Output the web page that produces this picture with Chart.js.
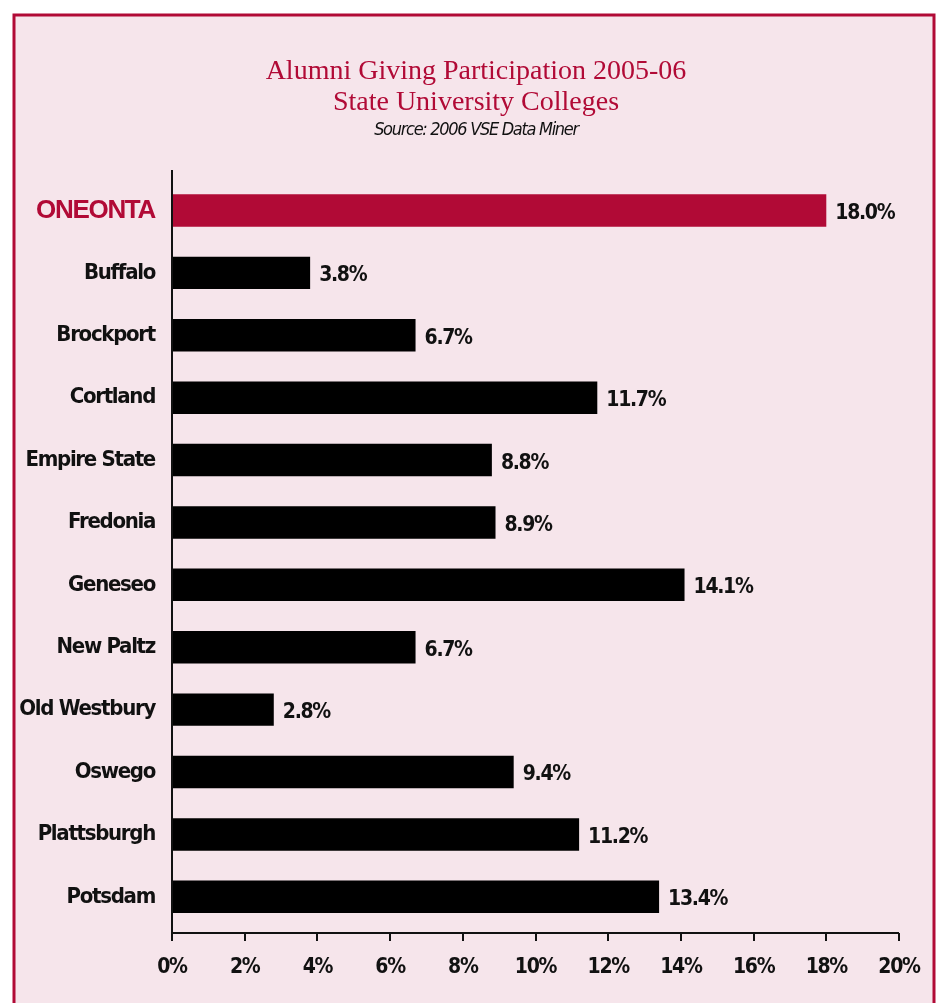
<!DOCTYPE html>
<html>
<head>
<meta charset="utf-8">
<script src="https://cdn.jsdelivr.net/npm/chart.js@4.4.1/dist/chart.umd.min.js"></script>
<style>
html,body{margin:0;padding:0;background:#fff;}
#wrap{position:relative;width:942px;height:1003px;}
canvas{display:block;}
</style>
</head>
<body>
<div id="wrap"><canvas id="c" width="942" height="1003"></canvas></div>
<script>
const categories = ["ONEONTA","Buffalo","Brockport","Cortland","Empire State","Fredonia","Geneseo","New Paltz","Old Westbury","Oswego","Plattsburgh","Potsdam"];
const values = [18.0,3.8,6.7,11.7,8.8,8.9,14.1,6.7,2.8,9.4,11.2,13.4];
const xTicks = [0,2,4,6,8,10,12,14,16,18,20];
const titleLines = ["Alumni Giving Participation 2005-06","State University Colleges"];
const subtitleText = "Source: 2006 VSE Data Miner";

const CRIMSON = "#B10A36";
const BG = "#F6E5EB";
const CONDENSED = "'Liberation Sans Narrow','DejaVu Sans Condensed',sans-serif";
const TIGHT = '-1.3px';

const spacingPlugin = {
  id: 'spacing',
  beforeUpdate(chart) { chart.ctx.letterSpacing = TIGHT; },
  beforeLayout(chart) { chart.ctx.letterSpacing = TIGHT; },
  afterLayout(chart) {
    const tb = chart.titleBlock;
    if (tb && !tb._wrapped) {
      const orig = tb.draw.bind(tb);
      tb.draw = function() {
        const ctx = chart.ctx;
        const prev = ctx.letterSpacing;
        ctx.letterSpacing = '0px';
        orig();
        ctx.letterSpacing = prev;
      };
      tb._wrapped = true;
    }
  },
  beforeDraw(chart) { chart.ctx.letterSpacing = TIGHT; }
};

const framePlugin = {
  id: 'frame',
  beforeDraw(chart) {
    const ctx = chart.ctx;
    ctx.save();
    ctx.fillStyle = '#fff';
    ctx.fillRect(0,0,chart.width,chart.height);
    ctx.fillStyle = BG;
    ctx.fillRect(14,15,920,1000);
    ctx.strokeStyle = CRIMSON;
    ctx.lineWidth = 3;
    ctx.strokeRect(14,15,920,1010);
    ctx.restore();
  }
};

const axesPlugin = {
  id: 'axesDraw',
  afterDatasetsDraw(chart) {
    const ctx = chart.ctx;
    const x = chart.scales.x;
    const a = chart.chartArea;
    const yAxis = a.bottom + 5;
    ctx.save();
    ctx.strokeStyle = '#111';
    ctx.lineWidth = 2;
    ctx.beginPath();
    ctx.moveTo(a.left, 170);
    ctx.lineTo(a.left, yAxis);
    ctx.lineTo(x.getPixelForValue(xTicks[xTicks.length-1]), yAxis);
    ctx.stroke();
    xTicks.forEach(v => {
      const px = Math.round(x.getPixelForValue(v));
      ctx.beginPath();
      ctx.moveTo(px, yAxis);
      ctx.lineTo(px, yAxis + 8);
      ctx.stroke();
    });
    ctx.fillStyle = '#111';
    ctx.letterSpacing = TIGHT;
    ctx.font = "bold 21px " + CONDENSED;
    ctx.textBaseline = 'middle';
    ctx.textAlign = 'left';
    const meta = chart.getDatasetMeta(0);
    meta.data.forEach((bar, i) => {
      ctx.fillText(values[i].toFixed(1) + '%', bar.x + 9, bar.y + 3);
    });
    ctx.restore();
  }
};

const canvas = document.getElementById('c');

new Chart(canvas, {
  type: 'bar',
  data: {
    labels: categories,
    datasets: [{
      data: values,
      backgroundColor: values.map((v,i) => i === 0 ? CRIMSON : '#000'),
      borderWidth: 0,
      barPercentage: 0.52,
      categoryPercentage: 1.0
    }]
  },
  options: {
    indexAxis: 'y',
    responsive: false,
    animation: false,
    events: [],
    layout: { padding: { left: 53, right: 43, top: 0, bottom: 0 } },
    plugins: {
      legend: { display: false },
      tooltip: { enabled: false },
      title: {
        display: true,
        text: titleLines,
        color: CRIMSON,
        font: { family: "'Liberation Serif','DejaVu Serif',serif", size: 28, weight: 'normal', lineHeight: 1.1 },
        padding: { top: 56, bottom: 2 }
      },
      subtitle: {
        display: true,
        text: subtitleText,
        color: '#111',
        font: { family: CONDENSED, size: 18, style: 'italic', lineHeight: 1.15 },
        padding: { top: 0, bottom: 39 }
      }
    },
    scales: {
      x: {
        min: 0, max: 20,
        afterBuildTicks(scale) { scale.ticks = xTicks.map(v => ({ value: v })); },
        afterFit(scale) { scale.height = 75; scale.paddingLeft = 0; scale.paddingRight = 0; },
        grid: { display: false, drawTicks: false },
        border: { display: false },
        ticks: {
          padding: 27,
          color: '#111',
          font: { family: CONDENSED, size: 21, weight: 'bold' },
          callback: v => v + '%',
          maxRotation: 0
        }
      },
      y: {
        afterFit(scale) {
          scale.width = 119;
          scale.paddingTop = 0; scale.paddingBottom = 0;
          scale._computeLabelArea = () => undefined;
        },
        grid: { display: false, drawTicks: false },
        border: { display: false },
        ticks: {
          padding: 17,
          color: ctx => ctx.index === 0 ? CRIMSON : '#111',
          font: ctx => ctx.index === 0
            ? { family: "'Liberation Sans',Arial,sans-serif", size: 26, weight: 'bold' }
            : { family: CONDENSED, size: 22, weight: 'bold' }
        }
      }
    }
  },
  plugins: [spacingPlugin, framePlugin, axesPlugin]
});
</script>
</body>
</html>
